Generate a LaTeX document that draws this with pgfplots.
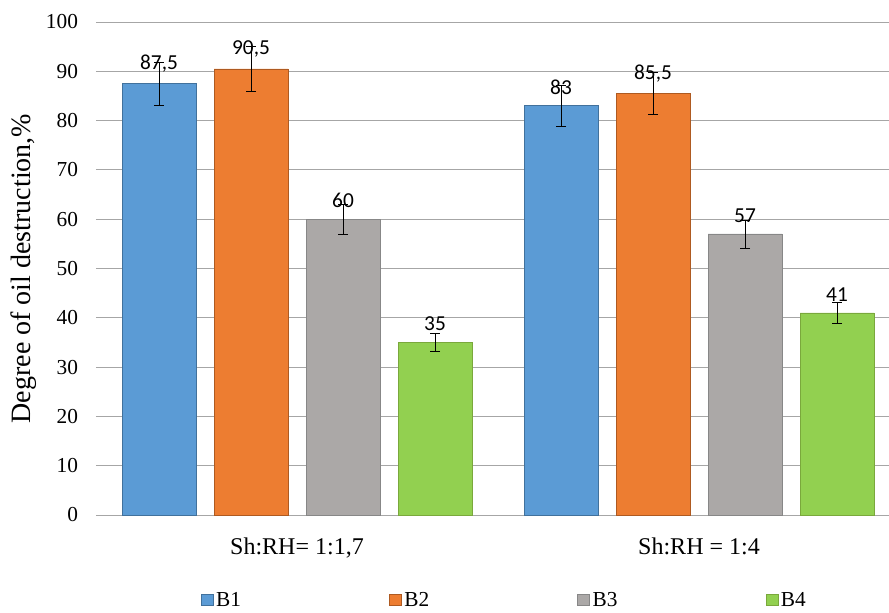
\documentclass[border=0pt]{standalone}
\usepackage{fontspec}
\setmainfont{Liberation Serif}
\newfontfamily\carlito{Carlito}
\usepackage{pgfplots}
\pgfplotsset{compat=1.18}
\definecolor{cB1}{HTML}{5B9BD5}
\definecolor{cB1d}{HTML}{41719C}
\definecolor{cB2}{HTML}{ED7D31}
\definecolor{cB2d}{HTML}{AE5A21}
\definecolor{cB3}{HTML}{ABA8A7}
\definecolor{cB3d}{HTML}{878787}
\definecolor{cB4}{HTML}{92D050}
\definecolor{cB4d}{HTML}{7AA83C}
\definecolor{gridc}{HTML}{A6A6A6}
\begin{document}
\begin{tikzpicture}[x=1pt,y=1pt]
\path[use as bounding box] (-72,-72.75) rectangle (594.75,386.25);
\begin{axis}[
  at={(0,0)}, anchor=south west,
  scale only axis, width=603pt, height=369.75pt,
  xmin=-0.5, xmax=1.5, ymin=0, ymax=100,
  ybar=13.5pt, bar width=55.5pt,
  xtick={0,1}, xticklabels={{Sh:RH= 1:1,7},{Sh:RH = 1:4}},
  ytick={0,10,...,100},
  ymajorgrids, grid style={gridc, line width=0.7pt},
  axis line style={draw=none}, tick style={draw=none},
  /pgf/number format/assume math mode=true,
  yticklabel style={font=\fontsize{16}{19}\selectfont, xshift=-10pt},
  xticklabel style={font=\fontsize{18}{21}\selectfont, yshift=-9pt},
  ylabel={Degree of oil destruction,\%},
  ylabel style={at={(axis description cs:-0.09,0.5)}, anchor=center, font=\fontsize{21}{25}\selectfont},
  nodes near coords,
  every node near coord/.append style={font=\carlito\fontsize{16}{19}\selectfont, black, yshift=5pt, /pgf/number format/use comma},
  legend columns=4,
  legend style={at={(axis description cs:0.5075,-0.1724)}, anchor=center, draw=none, font=\fontsize{16}{19}\selectfont,
    nodes={inner sep=1pt},
    /tikz/every odd column/.append style={column sep=1pt},
    /tikz/every even column/.append style={column sep=110pt}},
  legend image code/.code={\draw[#1, line width=0.5pt] (0pt,-4pt) rectangle (9pt,4pt);},
  error bars/y dir=both, error bars/y explicit,
  error bars/error bar style={black, line width=0.6pt},
  error bars/error mark options={rotate=90, mark size=3.75pt, black, line width=0.6pt},
]
\addplot[fill=cB1, draw=cB1d, line width=0.5pt] table[x=x, y=y, y error=e] {
x y e
0 87.5 4.375
1 83 4.15
};
\addplot[fill=cB2, draw=cB2d, line width=0.5pt] table[x=x, y=y, y error=e] {
x y e
0 90.5 4.525
1 85.5 4.275
};
\addplot[fill=cB3, draw=cB3d, line width=0.5pt] table[x=x, y=y, y error=e] {
x y e
0 60 3
1 57 2.85
};
\addplot[fill=cB4, draw=cB4d, line width=0.5pt] table[x=x, y=y, y error=e] {
x y e
0 35 1.75
1 41 2.05
};
\legend{B1,B2,B3,B4}
\end{axis}
\end{tikzpicture}
\end{document}
